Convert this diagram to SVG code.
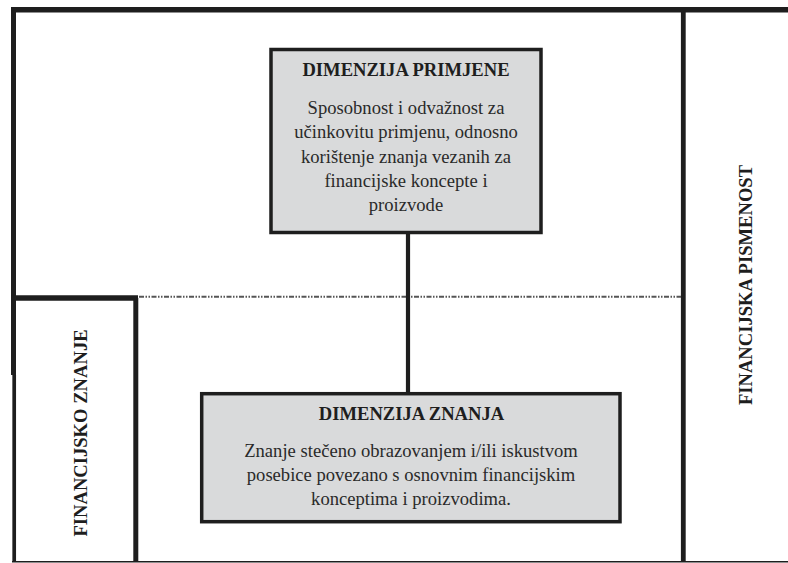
<svg xmlns="http://www.w3.org/2000/svg" width="788" height="563" viewBox="0 0 788 563">
  <style>
    .frame { stroke: #1e1e1e; fill: none; stroke-linecap: butt; }
    .box { fill: #d9dadb; stroke: #1e1e1e; stroke-width: 3.5; }
    .title { font-family: "Liberation Serif", "Times New Roman", serif; font-weight: bold; font-size: 18.6px; fill: #1e1e1e; text-anchor: middle; }
    .body { font-family: "Liberation Serif", "Times New Roman", serif; font-size: 18.6px; fill: #2a2a2a; text-anchor: middle; }
    .side { font-family: "Liberation Serif", "Times New Roman", serif; font-weight: bold; font-size: 18.6px; fill: #1e1e1e; text-anchor: middle; }
  </style>
  <rect width="788" height="563" fill="#ffffff"/>

  <g id="frame">
    <line class="frame" x1="11" y1="9.7" x2="788" y2="9.7" stroke-width="5.5"/>
    <line class="frame" x1="13.5" y1="7" x2="13.5" y2="375" stroke-width="5"/>
    <line class="frame" x1="14.2" y1="375" x2="14.2" y2="562" stroke-width="3.7"/>
    <line class="frame" x1="683.3" y1="9" x2="683.3" y2="562" stroke-width="4.8"/>
    <line class="frame" x1="12" y1="561.8" x2="788" y2="561.8" stroke-width="1.4" stroke="#555555"/>
    <line class="frame" x1="11" y1="298" x2="138" y2="298" stroke-width="5.5"/>
    <line class="frame" x1="135.8" y1="298" x2="135.8" y2="562" stroke-width="5"/>
    <line x1="139" y1="296.8" x2="681" y2="296.8" stroke="#555555" stroke-width="2" stroke-dasharray="5 1.5 1.5 1.5 1.5 1.5"/>
  </g>

  <g id="financijsko-znanje">
    <text class="side" transform="translate(86.5 433) rotate(-90)">FINANCIJSKO ZNANJE</text>
  </g>

  <g id="financijska-pismenost">
    <text class="side" transform="translate(752 285) rotate(-90)">FINANCIJSKA PISMENOST</text>
  </g>

  <g id="connectors">
    <line x1="408" y1="234" x2="408" y2="392" stroke="#1e1e1e" stroke-width="4.2"/>
  </g>

  <g id="dimenzija-primjene">
    <rect class="box" x="271" y="49.5" width="270" height="183"/>
    <text class="title" x="406" y="75.7">DIMENZIJA PRIMJENE</text>
    <text class="body" x="406" y="114">Sposobnost i odvažnost za</text>
    <text class="body" x="406" y="138.3">učinkovitu primjenu, odnosno</text>
    <text class="body" x="406" y="162.5">korištenje znanja vezanih za</text>
    <text class="body" x="406" y="186.7">financijske koncepte i</text>
    <text class="body" x="406" y="211">proizvode</text>
  </g>

  <g id="dimenzija-znanja">
    <rect class="box" x="201.7" y="393.7" width="418.3" height="128"/>
    <text class="title" x="411.5" y="420">DIMENZIJA ZNANJA</text>
    <text class="body" x="411" y="457.3">Znanje stečeno obrazovanjem i/ili iskustvom</text>
    <text class="body" x="411" y="481.3">posebice povezano s osnovnim financijskim</text>
    <text class="body" x="411" y="505">konceptima i proizvodima.</text>
  </g>
</svg>
